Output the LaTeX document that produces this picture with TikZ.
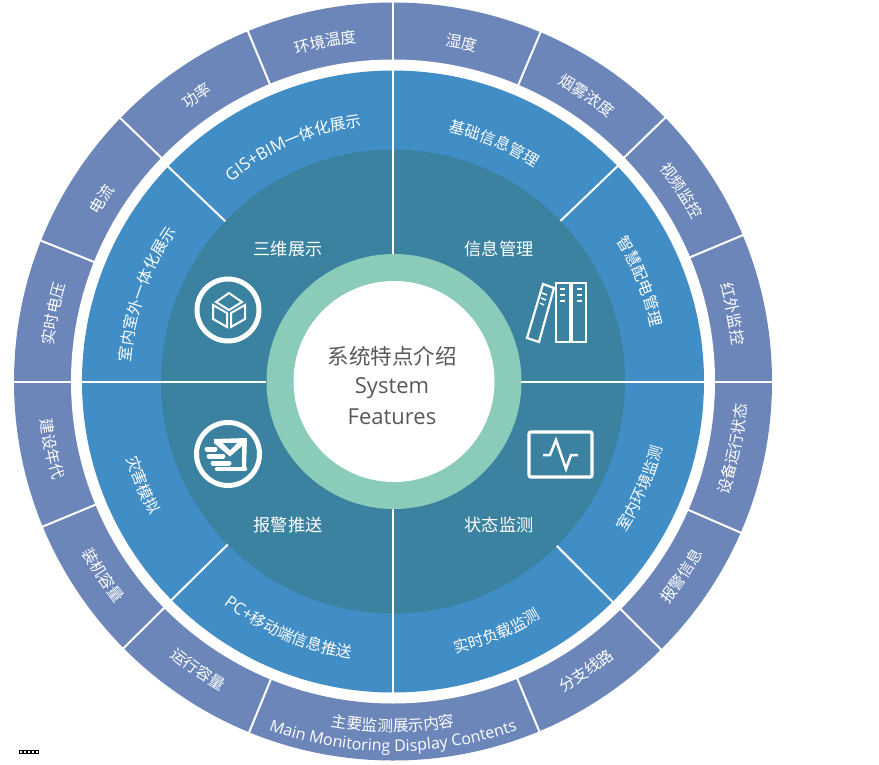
\documentclass[tikz,border=0pt]{standalone}
\usepackage{fontspec}
\usetikzlibrary{decorations.text}
\setmainfont{Open Sans}
\newfontfamily\cjkf{Noto Sans CJK SC}
\newfontfamily\latf{Open Sans}
\definecolor{ringouter}{HTML}{6C86BA}
\definecolor{ringblue}{HTML}{418DC6}
\definecolor{ringteal}{HTML}{3A829F}
\definecolor{ringmint}{HTML}{8ACBBA}
\definecolor{titlegray}{HTML}{595959}
\newcommand\labfmt{\color{white}\cjkf\fontsize{15.6}{18}\selectfont}
\newcommand\latfmt{\color{white}\latf\fontsize{16.8}{18}\selectfont}
\newcommand\engfmt{\color{white}\latf\fontsize{16}{18}\selectfont}
% clockwise arc, reads left-to-right over the top: {text}{angle}{baseline radius}
\newcommand\uparc[3]{\path[decorate,decoration={text along path,text align=center,text={#1}}]
  ({#2+60}:#3) arc[start angle={#2+60},end angle={#2-60},radius=#3];}
% anticlockwise arc, reads left-to-right along the bottom
\newcommand\lowarc[3]{\path[decorate,decoration={text along path,text align=center,text={#1}}]
  ({#2-60}:#3) arc[start angle={#2-60},end angle={#2+60},radius=#3];}
\tikzset{
  divider/.style={draw=white,line width=2pt},
  midlabel/.style={text=white,font=\cjkf\fontsize{17.2}{20}\selectfont,inner sep=0pt},
  titlelabel/.style={text=titlegray,inner sep=0pt},
  iconline/.style={draw=white,line width=2.2pt,line join=miter},
  iconring/.style={draw=white,line width=5pt},
  tickline/.style={draw=white,line width=1.5pt}
}
\begin{document}
\begin{tikzpicture}[x=1pt,y=1pt]
\fill[white] (0,0) rectangle (879,-764);
\useasboundingbox (0,0) rectangle (879,-764);
\begin{scope}[shift={(393,-381.5)}]
  \fill[ringouter] (0,0) circle[radius=379];
  \fill[white] (0,0) circle[radius=322];
  \fill[ringblue] (0,0) circle[radius=311];
  \fill[ringteal] (0,0) circle[radius=232];
  \fill[ringmint] (1,0) circle[radius=127.5];
  \fill[white] (1,0) circle[radius=100.5];
  % outer ring dividers
  \foreach \a in {0,22.7,44.1,67.1,90,112.5,136,158.2,180,202.5,224.7,247.7,292.7,315,336.5}
    \draw[divider] (\a:321) -- (\a:381);
  % blue ring dividers
  \foreach \a in {43.8,136.3,224.6,314.9}
    \draw[divider] (\a:232) -- (\a:312);
  \foreach \a in {0,90,180,270}
    \draw[divider] (\a:127.5) -- (\a:312);
  % outer ring labels, upper half
  \uparc{|\labfmt|环境温度}{101.25}{341}
  \uparc{|\labfmt|功率}{124.5}{341}
  \uparc{|\labfmt|电流}{148}{338}
  \uparc{|\labfmt|实时电压}{168.75}{341}
  \uparc{|\labfmt|湿度}{78.5}{340}
  \uparc{|\labfmt|烟雾浓度}{55.9}{340}
  \uparc{|\labfmt|视频监控}{33.5}{341}
  \uparc{|\labfmt|红外监控}{11.25}{341}
  % outer ring labels, lower half
  \lowarc{|\labfmt|建设年代}{191.25}{354}
  \lowarc{|\labfmt|装机容量}{213.75}{355}
  \lowarc{|\labfmt|运行容量}{235.9}{354}
  \lowarc{|\labfmt|分支线路}{303.75}{354}
  \lowarc{|\labfmt|报警信息}{326}{354}
  \lowarc{|\labfmt|设备运行状态}{348.75}{354}
  \lowarc{|\labfmt|主要监测展示内容}{270}{350}
  \lowarc{|\engfmt|Main Monitoring Display Contents}{270}{370}
  % blue ring labels
  \uparc{|\labfmt|基础信息管理}{67}{256}
  \uparc{|\labfmt|智慧配电管理}{22}{264}
  \uparc{|\latfmt|GIS+BIM|\labfmt|一体化展示}{113}{257}
  \uparc{|\labfmt|室内室外一体化展示}{160.5}{263}
  \lowarc{|\labfmt|灾害模拟}{202.5}{277}
  \lowarc{|\latfmt|PC+|\labfmt|移动端信息推送}{247}{280}
  \lowarc{|\labfmt|实时负载监测}{292.5}{279}
  \lowarc{|\labfmt|室内环境监测}{336.6}{277}
\end{scope}
\begin{scope}[y=-1pt]
  % teal quadrant labels
  \node[midlabel] (sanwei) at (288,249) {三维展示};
  \node[midlabel] (xinxi) at (499,249) {信息管理};
  \node[midlabel] (baojing) at (288,525) {报警推送};
  \node[midlabel] (zhuangtai) at (499,525) {状态监测};
  % centre title
  \node[titlelabel,font=\cjkf\fontsize{21.5}{24}\selectfont] (titlecn) at (392,356) {系统特点介绍};
  \node[titlelabel,anchor=base,font=\latf\fontsize{22}{24}\selectfont] (titlea) at (392,393) {System};
  \node[titlelabel,anchor=base,font=\latf\fontsize{22}{24}\selectfont] (titleb) at (392,424) {Features};
  % cube icon
  \draw[iconring] (228,310) circle[radius=31];
  \draw[iconline,line width=2pt] (229,293) -- (242,302) -- (229,310) -- (216,302) -- cycle;
  \draw[iconline,line width=2pt] (213,305) -- (227,313) -- (227,327) -- (213,319) -- cycle;
  \draw[iconline,line width=2pt] (245,305) -- (231,313) -- (231,327) -- (245,319) -- cycle;
  % books icon
  \draw[iconline] (572,283) rectangle (586,342);
  \draw[iconline] (556,283) rectangle (570,342);
  \draw[iconline] (543,284) -- (554,288) -- (539,342) -- (527,338) -- cycle;
  \foreach \yy in {289,295,301} {
    \draw[tickline] (577,\yy) -- (582,\yy);
    \draw[tickline] (560,\yy) -- (565,\yy);
  }
  \draw[tickline] (542,293) -- (547,295);
  \draw[tickline] (541,298) -- (546,300);
  \draw[tickline] (540,303) -- (544,305);
  % monitor icon
  \draw[draw=white,line width=3.2pt,rounded corners=2pt] (529,432) rectangle (592,477);
  \draw[draw=white,line width=2.5pt] (543,455) -- (550,455) -- (556,440) -- (566,469) -- (571,455) -- (578,455);
  % mail icon
  \draw[iconring] (228,454) circle[radius=31.5];
  \fill[white] (214,439) -- (247,438) -- (246,470) -- (242,470) -- (242,446) -- (230,456.5) -- (214,443) -- cycle;
  \fill[ringteal] (223,443) -- (237,443) -- (230,450) -- cycle;
  \draw[draw=white,line width=5pt,line cap=round] (207,449) -- (215,449);
  \draw[draw=white,line width=5pt,line cap=round] (209,456) -- (223,456);
  \draw[draw=white,line width=5pt,line cap=round] (213,463) -- (229,463);
  \draw[draw=white,line width=4.5pt,line cap=round] (217,469) -- (245,469);
  % small mark at the lower left
  \foreach \xx in {19,23,27,31,35}
    \draw[black,line width=0.8pt] (\xx,750.5) rectangle (\xx+3,753.5);
\end{scope}
\end{tikzpicture}
\end{document}
